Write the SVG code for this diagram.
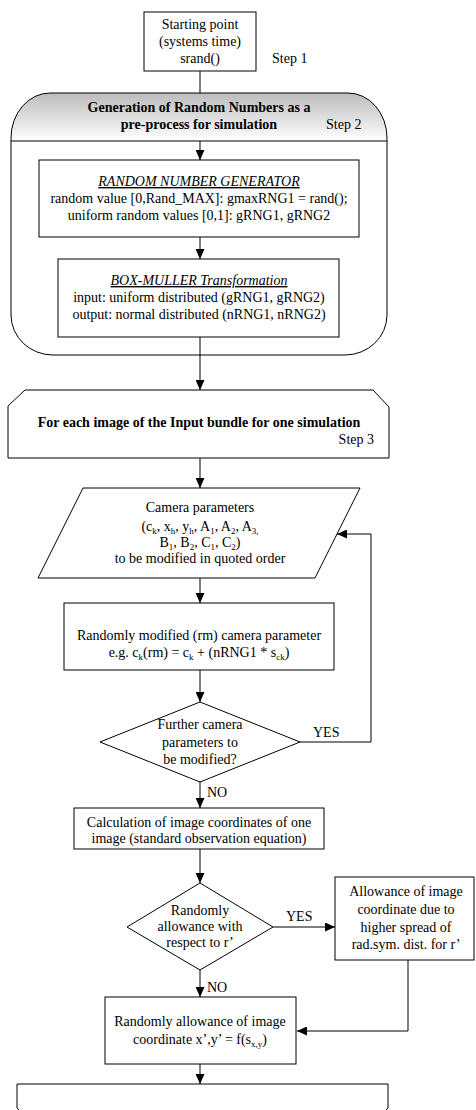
<svg xmlns="http://www.w3.org/2000/svg" width="476" height="1110" viewBox="0 0 476 1110">
<style>
text{font-family:"Liberation Serif","Times New Roman",serif;font-size:14px;fill:#000}
.c{text-anchor:middle}
.b{font-weight:bold}
.u{font-style:italic;text-decoration:underline}
.box{fill:#fff;stroke:#000;stroke-width:1}
.ln{fill:none;stroke:#000;stroke-width:1}
.s{font-size:9px}
</style>
<defs>
<marker id="ah" markerUnits="userSpaceOnUse" markerWidth="10" markerHeight="9" refX="10" refY="4.5" orient="auto">
<path d="M0,0 L10,4.5 L0,9 z" fill="#000"/>
</marker>
<linearGradient id="hg" x1="0" y1="0" x2="0" y2="1">
<stop offset="0" stop-color="#bcbcbc"/>
<stop offset="1" stop-color="#ffffff"/>
</linearGradient>
</defs>

<g id="connectors">
<path class="ln" d="M200,71 V93"/>
<path class="ln" d="M200,141 V160" marker-end="url(#ah)"/>
<path class="ln" d="M200,237 V259" marker-end="url(#ah)"/>
<path class="ln" d="M200,337 V390" marker-end="url(#ah)"/>
<path class="ln" d="M200,458 V488" marker-end="url(#ah)"/>
<path class="ln" d="M200,578 V603" marker-end="url(#ah)"/>
<path class="ln" d="M200,670 V702" marker-end="url(#ah)"/>
<path class="ln" d="M300,742 H371 V534 H337" marker-end="url(#ah)"/>
<path class="ln" d="M200,782 V808" marker-end="url(#ah)"/>
<path class="ln" d="M200,849 V883" marker-end="url(#ah)"/>
<path class="ln" d="M273,927 H335" marker-end="url(#ah)"/>
<path class="ln" d="M408,960 V1031 H297" marker-end="url(#ah)"/>
<path class="ln" d="M200,970 V997" marker-end="url(#ah)"/>
<path class="ln" d="M200,1064 V1084" marker-end="url(#ah)"/>
<text x="313" y="737">YES</text>
<text x="207" y="797">NO</text>
<text x="286" y="921">YES</text>
<text x="207" y="992">NO</text>
</g>

<g id="step1">
<rect class="box" x="144" y="12" width="112" height="59"/>
<text class="c" x="200" y="29">Starting point</text>
<text class="c" x="200" y="46">(systems time)</text>
<text class="c" x="200" y="63">srand()</text>
<text x="272" y="63">Step 1</text>
</g>

<g id="step2">
<path d="M11,141 V138 A39,45 0 0 1 50,93 H348 A39,45 0 0 1 387,138 V141 Z" fill="url(#hg)" stroke="none"/>
<path class="ln" d="M11,141 V138 A39,45 0 0 1 50,93 H348 A39,45 0 0 1 387,138 V315 A42,40 0 0 1 345,355 H53 A42,40 0 0 1 11,315 Z"/>
<path class="ln" d="M11,141 H387"/>
<text class="c b" x="199" y="112">Generation of Random Numbers as a</text>
<text class="c b" x="199" y="129">pre-process for simulation</text>
<text x="326" y="129">Step 2</text>
</g>

<g id="rng">
<rect class="box" x="39" y="160" width="320" height="77"/>
<text class="c u" x="199" y="186">RANDOM NUMBER GENERATOR</text>
<text class="c" x="199" y="203">random value [0,Rand_MAX]: gmaxRNG1 = rand();</text>
<text class="c" x="199" y="220">uniform random values [0,1]: gRNG1, gRNG2</text>
</g>

<g id="boxmuller">
<rect class="box" x="58" y="259" width="281" height="78"/>
<text class="c u" x="199" y="285">BOX-MULLER Transformation</text>
<text class="c" x="199" y="302">input: uniform distributed (gRNG1, gRNG2)</text>
<text class="c" x="199" y="319">output: normal distributed (nRNG1, nRNG2)</text>
</g>

<g id="step3">
<path class="box" d="M8,406 L25,390 H373 L389,407 V458 H8 Z"/>
<text class="c b" x="199" y="427">For each image of the Input bundle for one simulation</text>
<text x="374" y="444" text-anchor="end">Step 3</text>
</g>

<g id="camparams">
<path class="box" d="M83,488 H360 L315,578 H38 Z"/>
<text class="c" x="200" y="512">Camera parameters</text>
<text class="c" x="200" y="531">(c<tspan class="s" dy="3">k</tspan><tspan dy="-3">, x</tspan><tspan class="s" dy="3">h</tspan><tspan dy="-3">, y</tspan><tspan class="s" dy="3">h</tspan><tspan dy="-3">, A</tspan><tspan class="s" dy="3">1</tspan><tspan dy="-3">, A</tspan><tspan class="s" dy="3">2</tspan><tspan dy="-3">, A</tspan><tspan class="s" dy="3">3,</tspan></text>
<text class="c" x="200" y="547">B<tspan class="s" dy="3">1</tspan><tspan dy="-3">, B</tspan><tspan class="s" dy="3">2</tspan><tspan dy="-3">, C</tspan><tspan class="s" dy="3">1</tspan><tspan dy="-3">, C</tspan><tspan class="s" dy="3">2</tspan><tspan dy="-3">)</tspan></text>
<text class="c" x="200" y="563">to be modified in quoted order</text>
</g>

<g id="rmparam">
<rect class="box" x="64" y="603" width="270" height="67"/>
<text class="c" x="199" y="640">Randomly modified (rm) camera parameter</text>
<text class="c" x="199" y="657">e.g. c<tspan class="s" dy="3">k</tspan><tspan dy="-3">(rm) = c</tspan><tspan class="s" dy="3">k</tspan><tspan dy="-3"> + (nRNG1 * s</tspan><tspan class="s" dy="3">ck</tspan><tspan dy="-3">)</tspan></text>
</g>

<g id="decision1">
<path class="box" d="M200,702 L300,742 L200,782 L100,742 Z"/>
<text class="c" x="200" y="729">Further camera</text>
<text class="c" x="200" y="747">parameters to</text>
<text class="c" x="200" y="764">be modified?</text>
</g>

<g id="calc">
<rect class="box" x="74" y="808" width="250" height="41"/>
<text class="c" x="199" y="827">Calculation of image coordinates of one</text>
<text class="c" x="199" y="843">image (standard observation equation)</text>
</g>

<g id="decision2">
<path class="box" d="M200,883 L273,927 L200,970 L127,927 Z"/>
<text class="c" x="200" y="915">Randomly</text>
<text class="c" x="200" y="931">allowance with</text>
<text class="c" x="200" y="947">respect to r’</text>
</g>

<g id="radsym">
<rect class="box" x="335" y="877" width="139" height="83"/>
<text class="c" x="406" y="896">Allowance of image</text>
<text class="c" x="406" y="914">coordinate due to</text>
<text class="c" x="406" y="932">higher spread of</text>
<text class="c" x="406" y="949">rad.sym. dist. for r’</text>
</g>

<g id="allowance">
<rect class="box" x="105" y="997" width="191" height="67"/>
<text class="c" x="200" y="1026">Randomly allowance of image</text>
<text class="c" x="200" y="1044">coordinate x’,y’ = f(s<tspan class="s" dy="3">x,y</tspan><tspan dy="-3">)</tspan></text>
</g>

<g id="loopend">
<path class="box" d="M17,1084 H388 V1108 L372,1124 H33 L17,1108 Z"/>
</g>
</svg>
